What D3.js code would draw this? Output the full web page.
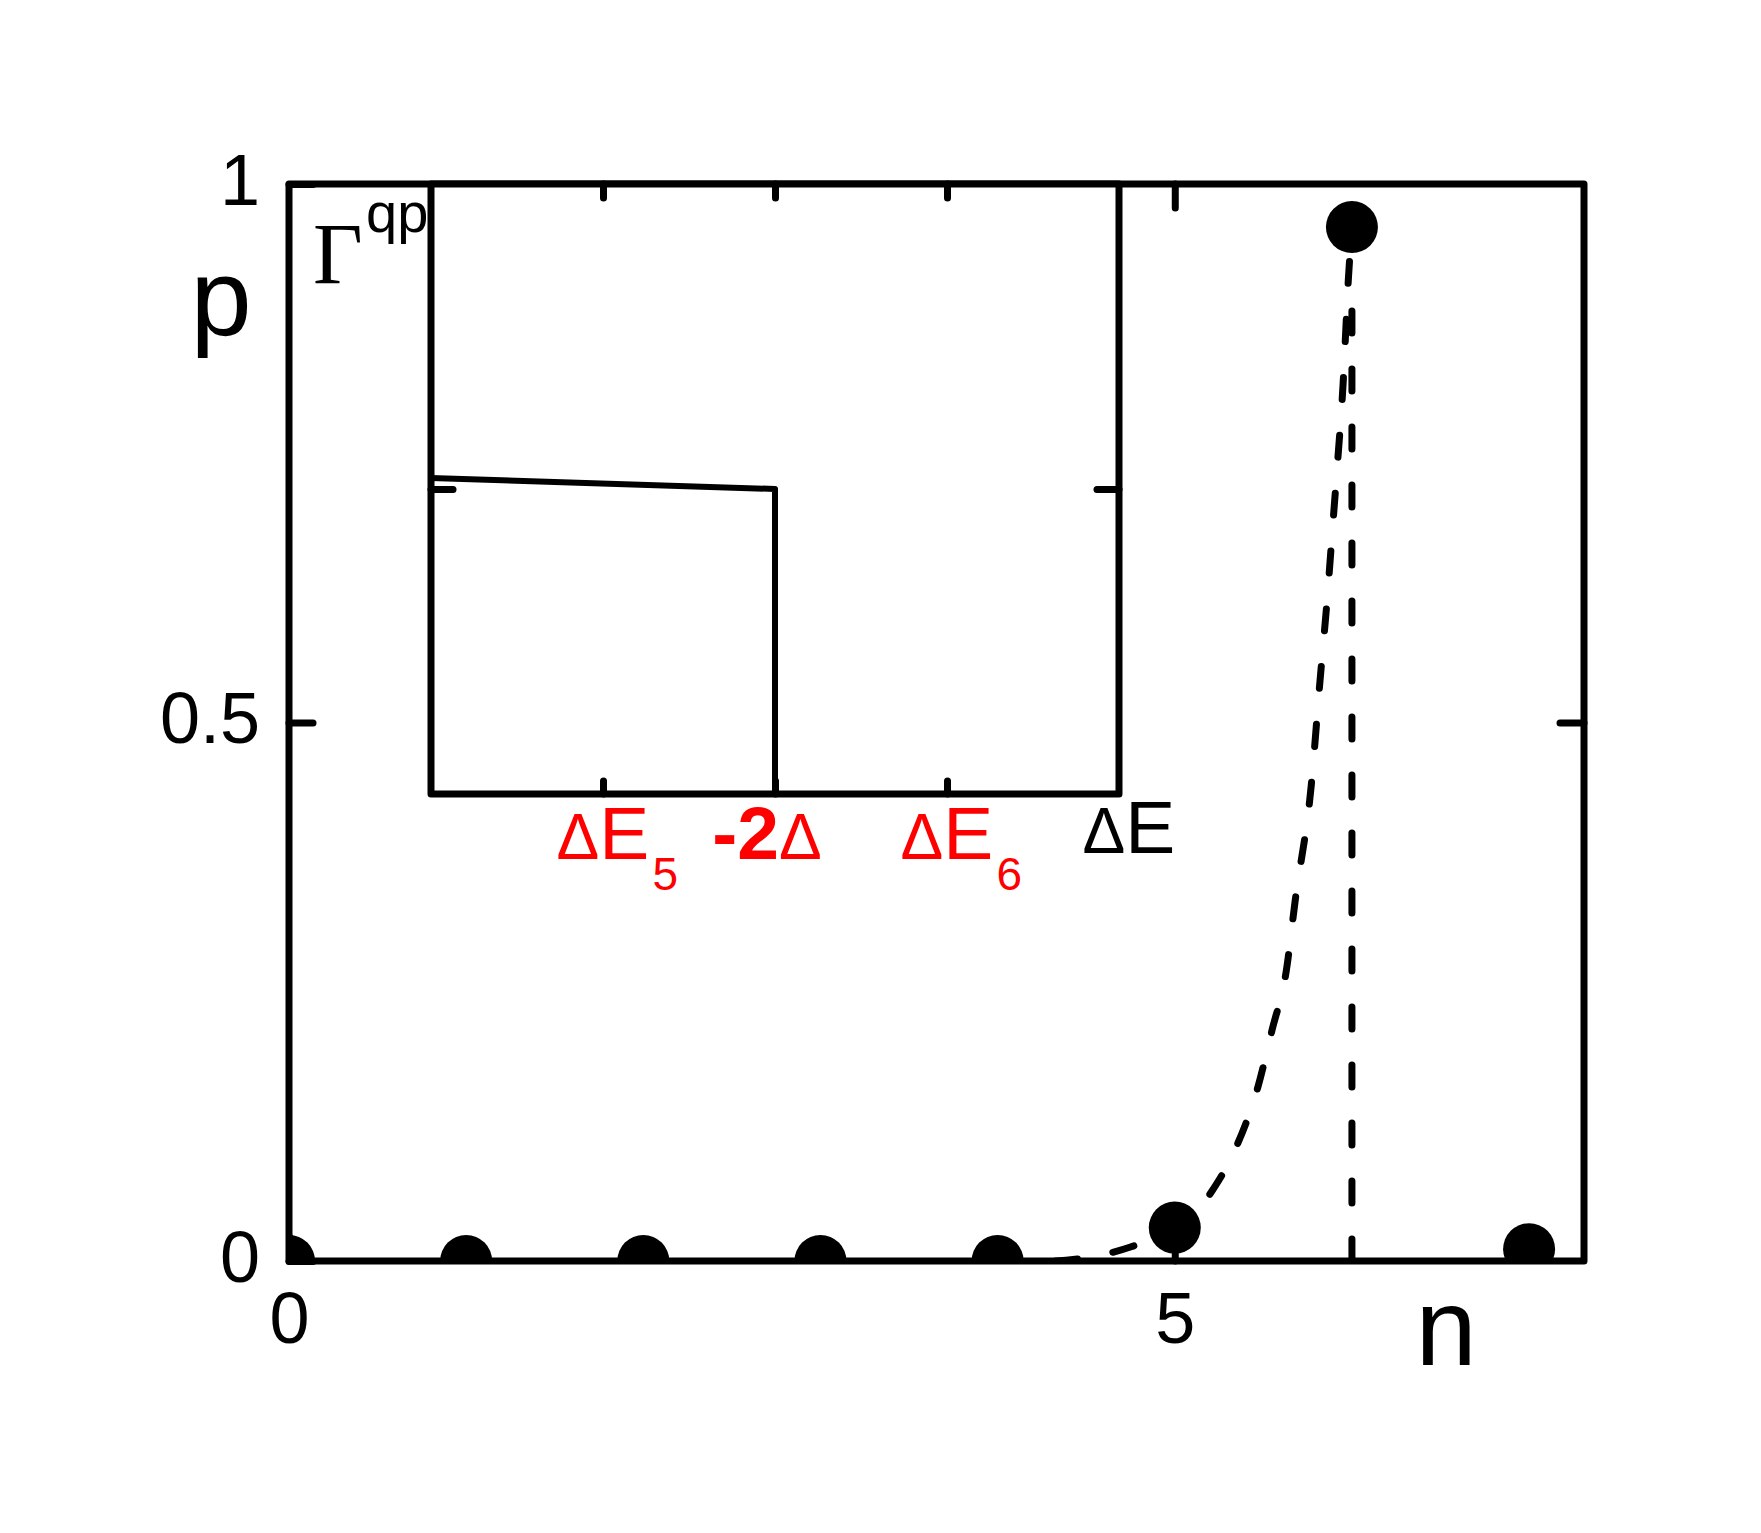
<!DOCTYPE html>
<html>
<head>
<meta charset="utf-8">
<script src="https://cdn.jsdelivr.net/npm/d3@7"></script>
<style>
  body { margin: 0; background: #fff; }
  svg { display: block; font-family: "Liberation Sans", Arial, sans-serif; }
</style>
</head>
<body>
<svg width="1761" height="1533"></svg>
<script>
// main panel data
const nVals = [0, 1, 2, 3, 4, 5, 6, 7];
const pVals = [0, 0, 0, 0, 0, 0.031, 0.96, 0.011];

// dashed guide curve
const curveN = [4.0, 4.3, 4.5, 4.75, 5.0, 5.12, 5.21, 5.35, 5.47, 5.55, 5.63, 5.68, 5.77, 5.82, 5.86, 5.89, 5.915, 5.95, 5.98, 6.0];
const curveP = [0, 0, 0.003, 0.013, 0.031, 0.045, 0.065, 0.107, 0.162, 0.215, 0.27, 0.335, 0.441, 0.539, 0.614, 0.679, 0.733, 0.814, 0.912, 0.96];

// vertical dashed line at n = 6
const vlineN = [6, 6];
const vlineP = [0, 0.9];

const xTicks = [0, 5];
const yTicks = [0, 0.5, 1];
const yTickLabels = ["0", "0.5", "1"];

// inset: Gamma^qp vs dE
const inE = [0, 2, 2];
const inG = [1.036, 1, 0];
const inTicks = [1, 2, 3];

const svg = d3.select("svg");
svg.append("rect").attr("width", 1761).attr("height", 1533).attr("fill", "#fff");

const m = {left: 289, right: 1584, top: 184, bottom: 1261};
const x = d3.scaleLinear().domain([0, 7.31]).range([m.left, m.right]);
const y = d3.scaleLinear().domain([0, 1]).range([m.bottom, m.top]);

svg.append("clipPath").attr("id", "plotclip")
  .append("rect")
  .attr("x", m.left).attr("y", m.top)
  .attr("width", m.right - m.left).attr("height", m.bottom - m.top);

const plot = svg.append("g").attr("clip-path", "url(#plotclip)");

const lw = 7;

plot.append("path")
  .datum(curveN.map((n, i) => [n, curveP[i]]))
  .attr("d", d3.line().x(d => x(d[0])).y(d => y(d[1])).curve(d3.curveMonotoneX))
  .attr("fill", "none")
  .attr("stroke", "#000")
  .attr("stroke-width", lw)
  .attr("stroke-linecap", "round")
  .attr("stroke-dasharray", "22,36");

plot.append("path")
  .datum(vlineN.map((n, i) => [n, vlineP[i]]))
  .attr("d", d3.line().x(d => x(d[0])).y(d => y(d[1])))
  .attr("fill", "none")
  .attr("stroke", "#000")
  .attr("stroke-width", lw)
  .attr("stroke-linecap", "round")
  .attr("stroke-dasharray", "22,36");

plot.selectAll("circle")
  .data(nVals)
  .enter()
  .append("circle")
  .attr("cx", d => x(d))
  .attr("cy", (d, i) => y(pVals[i]))
  .attr("r", 26)
  .attr("fill", "#000");

// axes (ticks inward)
function styleAxis(g) {
  g.select(".domain").remove();
  g.selectAll(".tick line")
    .attr("stroke", "#000")
    .attr("stroke-width", lw)
    .attr("stroke-linecap", "round");
  g.selectAll(".tick text")
    .attr("fill", "#000")
    .style("font-family", "'Liberation Sans', Arial, sans-serif")
    .style("font-size", "72px");
}

svg.append("g")
  .attr("transform", `translate(${m.left},0)`)
  .call(d3.axisLeft(y).tickValues(yTicks).tickSize(-24).tickPadding(29)
    .tickFormat((d, i) => yTickLabels[i]))
  .call(styleAxis)
  .selectAll(".tick text").attr("dy", "0.28em");

svg.append("g")
  .attr("transform", `translate(${m.right},0)`)
  .call(d3.axisRight(y).tickValues([0.5]).tickSize(-24).tickFormat(""))
  .call(styleAxis);

svg.append("g")
  .attr("transform", `translate(0,${m.bottom})`)
  .call(d3.axisBottom(x).tickValues(xTicks).tickSize(-24).tickPadding(31))
  .call(styleAxis);

svg.append("g")
  .attr("transform", `translate(0,${m.top})`)
  .call(d3.axisTop(x).tickValues([5]).tickSize(-24).tickFormat(""))
  .call(styleAxis);

svg.append("rect")
  .attr("x", m.left).attr("y", m.top)
  .attr("width", m.right - m.left).attr("height", m.bottom - m.top)
  .attr("fill", "none")
  .attr("stroke", "#000")
  .attr("stroke-width", lw)
  .attr("stroke-linejoin", "round");

svg.append("text")
  .attr("x", 221).attr("y", 335)
  .attr("text-anchor", "middle")
  .style("font-size", "110px")
  .text("p");

svg.append("text")
  .attr("x", 1446).attr("y", 1365)
  .attr("text-anchor", "middle")
  .style("font-size", "110px")
  .text("n");

// ---- inset ----
const ins = {left: 431, right: 1119, top: 184, bottom: 794};
const xi = d3.scaleLinear().domain([0, 4]).range([ins.left, ins.right]);
const yi = d3.scaleLinear().domain([0, 2]).range([ins.bottom, ins.top]);

svg.append("rect")
  .attr("x", ins.left).attr("y", ins.top)
  .attr("width", ins.right - ins.left).attr("height", ins.bottom - ins.top)
  .attr("fill", "#fff");

svg.append("path")
  .datum(inE.map((e, i) => [e, inG[i]]))
  .attr("d", d3.line().x(d => xi(d[0])).y(d => yi(d[1])))
  .attr("fill", "none")
  .attr("stroke", "#000")
  .attr("stroke-width", 6)
  .attr("stroke-linejoin", "round");

svg.append("g")
  .attr("transform", `translate(0,${ins.bottom})`)
  .call(d3.axisBottom(xi).tickValues(inTicks).tickSize(-13).tickFormat(""))
  .call(styleAxis);
svg.append("g")
  .attr("transform", `translate(0,${ins.top})`)
  .call(d3.axisTop(xi).tickValues(inTicks).tickSize(-14).tickFormat(""))
  .call(styleAxis);
svg.append("g")
  .attr("transform", `translate(${ins.left},0)`)
  .call(d3.axisLeft(yi).tickValues([1]).tickSize(-22).tickFormat(""))
  .call(styleAxis);
svg.append("g")
  .attr("transform", `translate(${ins.right},0)`)
  .call(d3.axisRight(yi).tickValues([1]).tickSize(-22).tickFormat(""))
  .call(styleAxis);

svg.append("rect")
  .attr("x", ins.left).attr("y", ins.top)
  .attr("width", ins.right - ins.left).attr("height", ins.bottom - ins.top)
  .attr("fill", "none")
  .attr("stroke", "#000")
  .attr("stroke-width", lw)
  .attr("stroke-linejoin", "round");

// Gamma^qp label
svg.append("text")
  .attr("x", 313).attr("y", 283)
  .style("font-family", "'Liberation Serif', 'Times New Roman', serif")
  .style("font-size", "86px")
  .text("Γ");
svg.append("text")
  .attr("x", 366).attr("y", 232)
  .style("font-size", "56px")
  .text("qp");

// inset tick labels
function deltaLabel(cx, base, color, sub) {
  const t = svg.append("text")
    .attr("x", cx).attr("y", base)
    .attr("text-anchor", "middle")
    .attr("fill", color)
    .style("font-size", "75px");
  t.append("tspan").style("font-size", "64px").text("Δ");
  t.append("tspan").text("E");
  if (sub) {
    const bb = t.node().getBBox();
    svg.append("text")
      .attr("x", bb.x + bb.width + 3).attr("y", base + 31)
      .attr("fill", color)
      .style("font-size", "46px")
      .text(sub);
  }
}

deltaLabel(xi(1), 859, "#ff0000", "5");
deltaLabel(xi(3), 859, "#ff0000", "6");
deltaLabel(xi(4) + 10, 853, "#000", null);

const m2 = svg.append("text")
  .attr("x", xi(2) - 8).attr("y", 859)
  .attr("text-anchor", "middle")
  .attr("fill", "#ff0000")
  .style("font-size", "75px");
m2.append("tspan").style("font-weight", "bold").text("-2");
m2.append("tspan").style("font-size", "64px").text("Δ");
</script>
</body>
</html>
